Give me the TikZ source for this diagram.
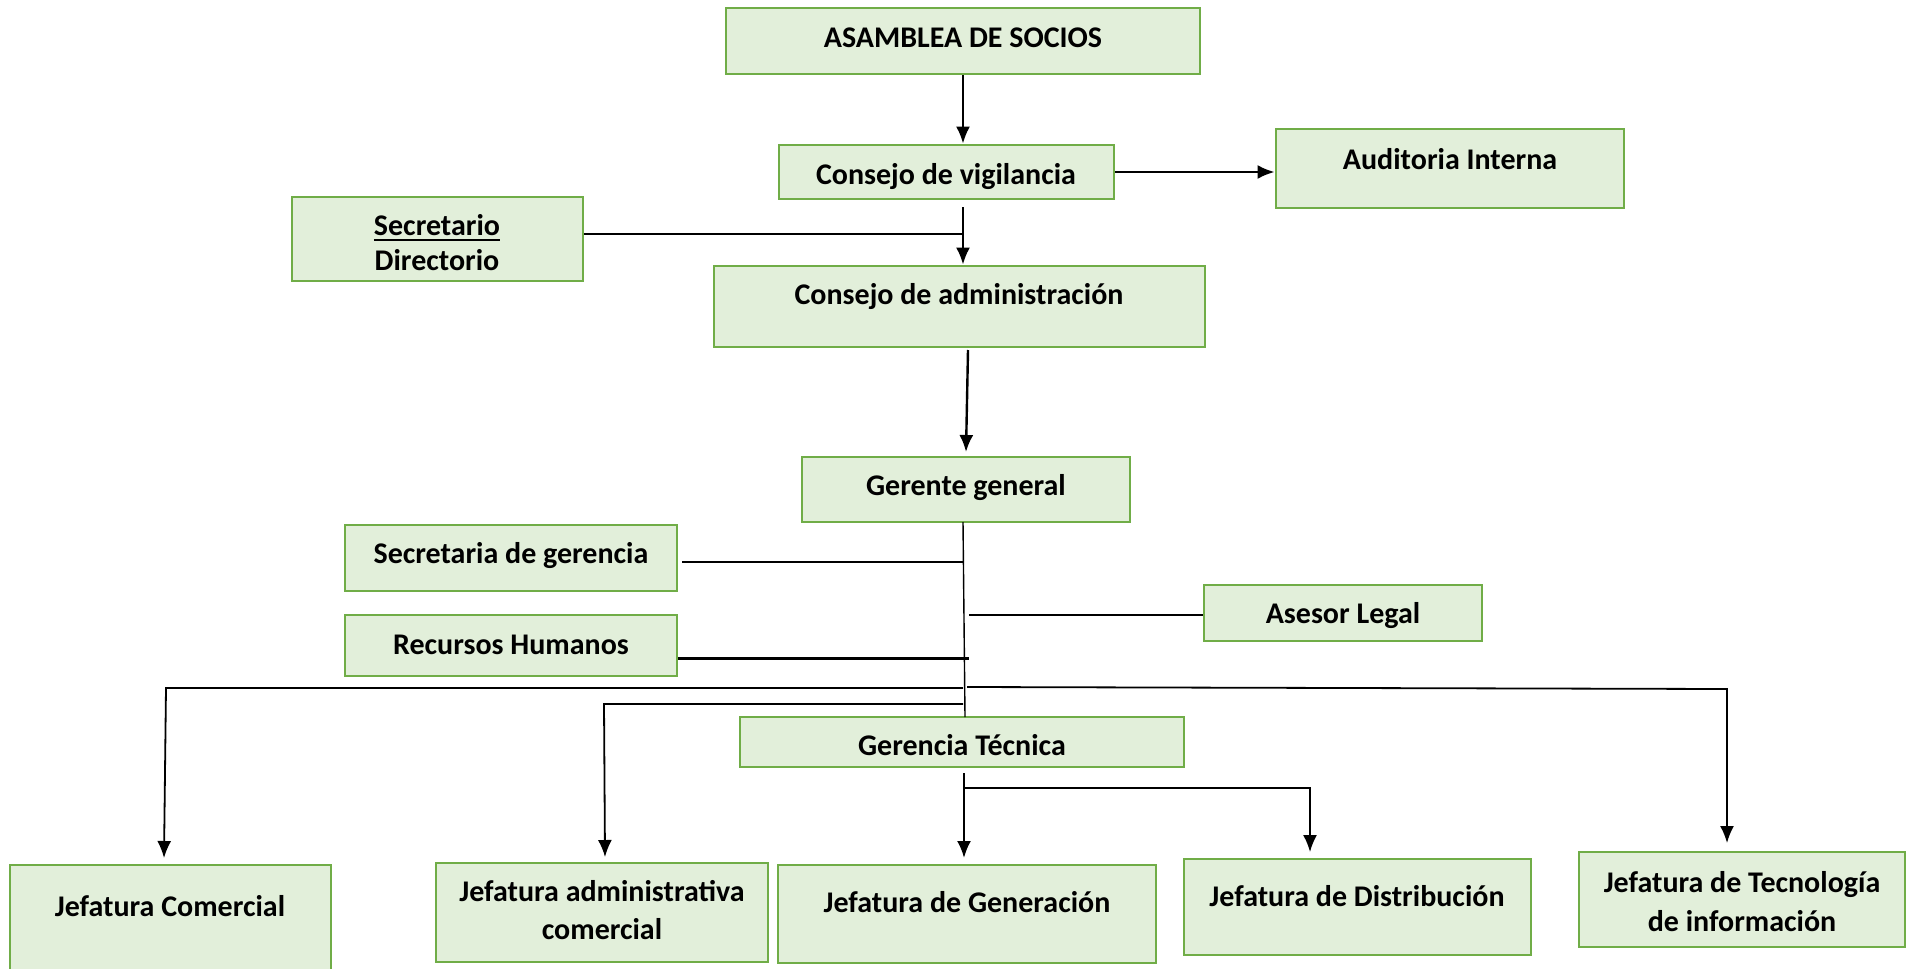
\documentclass[tikz,border=0pt]{standalone}
\usepackage{fontspec}
\setmainfont{Carlito}
\usetikzlibrary{arrows.meta}
\definecolor{boxfill}{HTML}{E2EFDA}
\definecolor{boxline}{HTML}{70AD47}
\newcommand\myul[1]{\vtop{\hbox{#1}\kern4pt\hrule height 2pt}}
\tikzset{
 orgbox/.style={draw=boxline, fill=boxfill, line width=2.8pt, inner sep=0pt},
 lbl/.style={font=\fontsize{30}{36}\selectfont\bfseries, anchor=base, inner sep=0pt},
 arr/.style={line width=2.4pt, -{Latex[length=17pt,width=14pt]}},
 arrthin/.style={line width=1.8pt, -{Latex[length=17pt,width=14pt]}},
 thinln/.style={line width=1.4pt},
 midln/.style={line width=1.9pt},
 thickln/.style={line width=3pt}
}
\begin{document}
\begin{tikzpicture}[x=1pt,y=-1pt]
\useasboundingbox (0,0) rectangle (1914,969);
% boxes
\node[orgbox, minimum width=474pt, minimum height=66pt] (asamblea) at (963,41) {};
\node[orgbox, minimum width=335pt, minimum height=54pt] (vigil) at (946.5,172) {};
\node[orgbox, minimum width=348pt, minimum height=79pt] (audit) at (1450,168.5) {};
\node[orgbox, minimum width=291pt, minimum height=84pt] (secdir) at (437.5,239) {};
\node[orgbox, minimum width=491pt, minimum height=81pt] (admin) at (959.5,306.5) {};
\node[orgbox, minimum width=328pt, minimum height=65pt] (gerente) at (966,489.5) {};
\node[orgbox, minimum width=332pt, minimum height=66pt] (secger) at (511,558) {};
\node[orgbox, minimum width=332pt, minimum height=61pt] (rrhh) at (511,645.5) {};
\node[orgbox, minimum width=278pt, minimum height=56pt] (asesor) at (1343,613) {};
\node[orgbox, minimum width=444pt, minimum height=50pt] (gtec) at (962,742) {};
\node[orgbox, minimum width=321pt, minimum height=110pt] (jcom) at (170.5,920) {};
\node[orgbox, minimum width=332pt, minimum height=99pt] (jadm) at (602,912.5) {};
\node[orgbox, minimum width=378pt, minimum height=98pt] (jgen) at (967,914) {};
\node[orgbox, minimum width=347pt, minimum height=96pt] (jdis) at (1357.5,907) {};
\node[orgbox, minimum width=326pt, minimum height=95pt] (jtec) at (1742,899.5) {};
% texts
\node[lbl] (asamblea-t) at (963,47) {ASAMBLEA DE SOCIOS};
\node[lbl] (vigil-t) at (946,184) {Consejo de vigilancia};
\node[lbl] (audit-t) at (1450,169) {Auditoria Interna};
\node[lbl] (secdir-t1) at (437,235) {\myul{Secretario}};
\node[lbl] (secdir-t2) at (437,270) {Directorio};
\node[lbl] (admin-t) at (959,304) {Consejo de administración};
\node[lbl] (gerente-t) at (966,495) {Gerente general};
\node[lbl] (secger-t) at (511,563) {Secretaria de gerencia};
\node[lbl] (rrhh-t) at (511,654) {Recursos Humanos};
\node[lbl] (asesor-t) at (1343,623) {Asesor Legal};
\node[lbl] (gtec-t) at (962,755) {Gerencia Técnica};
\node[lbl] (jcom-t) at (170,916) {Jefatura Comercial};
\node[lbl] (jadm-t1) at (602,901) {Jefatura administrativa};
\node[lbl] (jadm-t2) at (602,939) {comercial};
\node[lbl] (jgen-t) at (967,912) {Jefatura de Generación};
\node[lbl] (jdis-t) at (1357,906) {Jefatura de Distribución};
\node[lbl] (jtec-t1) at (1742,892) {Jefatura de Tecnología};
\node[lbl] (jtec-t2) at (1742,931) {de información};
% connectors
\draw[arr] (asamblea.south) -- (asamblea.south |- vigil.north);
\coordinate (c1) at (963,207);
\draw[arr] (c1) -- (c1 |- admin.north);
\coordinate (c2) at (963,234);
\draw[midln] (secdir.east |- c2) -- (c2);
\draw[arr] (vigil.east) -- (vigil.east -| audit.west);
\coordinate (c3) at (968,350);
\coordinate (c4) at (966,452);
\draw[arr] (c3) -- (c4);
\coordinate (t0) at (963,522);
\coordinate (t1) at (965,717);
\draw[thinln] (t0) -- (t1);
\coordinate (s1) at (682,562);
\coordinate (s2) at (963,562);
\draw[thinln] (s1) -- (s2);
\coordinate (r2) at (969,658);
\draw[thickln] (rrhh.east |- r2) -- (r2);
\coordinate (a2) at (969,615);
\draw[thinln] (a2) -- (a2 -| asesor.west);
\coordinate (h1) at (963,688);
\coordinate (h2) at (166,688);
\coordinate (h3) at (164,858);
\draw[arrthin] (h1) -- (h2) -- (h3);
\coordinate (k1) at (963,704);
\coordinate (k2) at (604,704);
\coordinate (k3) at (605,857);
\draw[arrthin] (k1) -- (k2) -- (k3);
\coordinate (m1) at (967,687);
\coordinate (m2) at (1727,689);
\coordinate (m3) at (1727,843);
\draw[arrthin] (m1) -- (m2) -- (m3);
\coordinate (g1) at (964,773);
\coordinate (g2) at (964,858);
\draw[arr] (g1) -- (g2);
\coordinate (d1) at (964,788);
\coordinate (d2) at (1310,788);
\coordinate (d3) at (1310,852);
\draw[arrthin] (d1) -- (d2) -- (d3);
\end{tikzpicture}
\end{document}
